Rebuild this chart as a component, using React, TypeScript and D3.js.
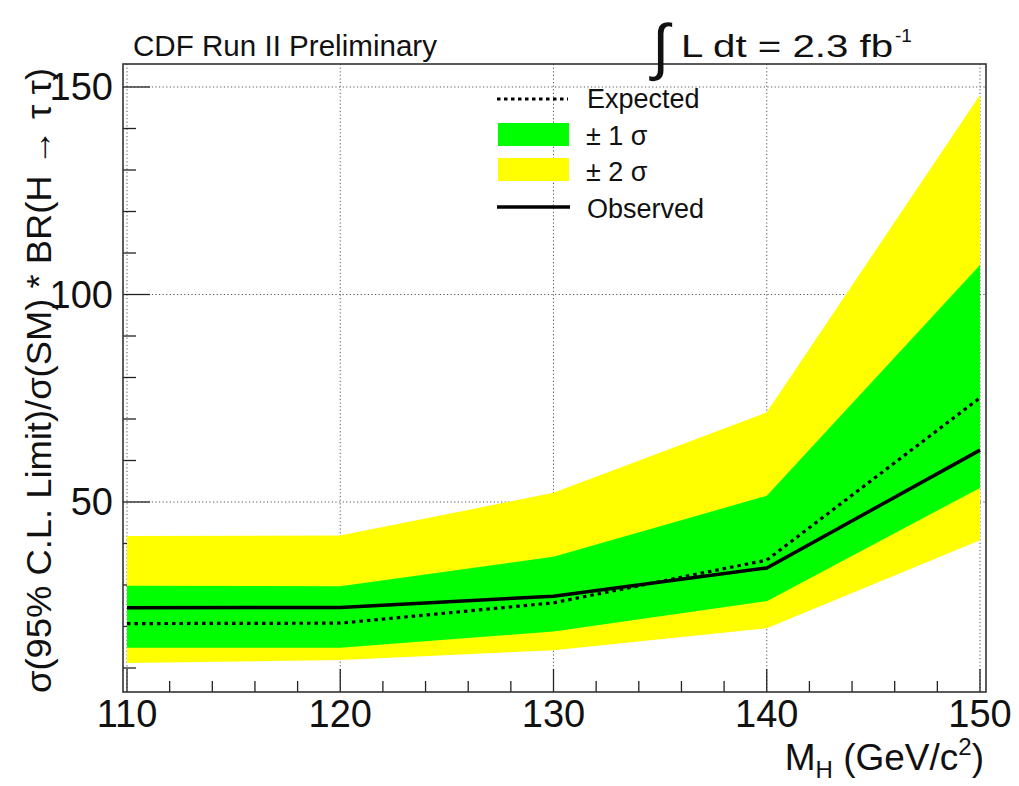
import React from 'react';
import * as d3 from 'd3';

// Higgs mass points (GeV/c^2)
const masses = [110, 120, 130, 140, 150];
// limits on sigma(95% CL)/sigma(SM) * BR(H -> tau tau)
const expected = [20.7, 20.8, 25.7, 36.0, 75.1];
const observed = [24.5, 24.6, 27.3, 34.1, 62.5];
const minus2 = [11.2, 11.9, 14.3, 19.6, 40.8];
const minus1 = [14.9, 14.9, 18.8, 26.1, 53.4];
const plus1 = [29.8, 29.7, 36.8, 51.5, 107.1];
const plus2 = [41.8, 41.9, 52.2, 71.6, 148.1];

const xTicks = [110, 120, 130, 140, 150];
const yTicks = [50, 100, 150];

const W = 1019;
const H = 786;
const frame = { left: 123, right: 986, top: 64, bottom: 692 };
const FONT = '"Liberation Sans", Arial, Helvetica, sans-serif';

const App: React.FC = () => {
  const x = d3.scaleLinear().domain([110, 150]).range([127, 980]);
  const y = d3.scaleLinear().domain([50, 150]).range([502, 87]);

  const band = (lo: number[], hi: number[]) =>
    d3
      .area<number>()
      .x((_, i) => x(masses[i]))
      .y0((_, i) => y(lo[i]))
      .y1((_, i) => y(hi[i]))(masses) as string;

  const line = (vals: number[]) =>
    d3
      .line<number>()
      .x((_, i) => x(masses[i]))
      .y((_, i) => y(vals[i]))(masses) as string;

  const xMinor = d3.range(110, 150.01, 2).filter(v => v % 10 !== 0);
  const yMinor = d3.range(10, 150.01, 10).filter(v => v % 50 !== 0);

  const gridStyle = { stroke: '#555', strokeWidth: 1, strokeDasharray: '1.2,2.4' };

  return (
    <div style={{ position: 'absolute', left: 0, top: 0 }}>
      <svg width={W} height={H} style={{ display: 'block', background: '#fff' }} fontFamily={FONT}>
        {/* grid */}
        {xTicks.map(t => (
          <line key={`gx${t}`} x1={x(t)} x2={x(t)} y1={frame.top} y2={frame.bottom} {...gridStyle} />
        ))}
        {yTicks.map(t => (
          <line key={`gy${t}`} x1={frame.left} x2={frame.right} y1={y(t)} y2={y(t)} {...gridStyle} />
        ))}

        {/* ticks */}
        {xTicks.map(t => (
          <line key={`tx${t}`} x1={x(t)} x2={x(t)} y1={frame.bottom} y2={frame.bottom - 23} stroke="#222" strokeWidth={1.3} />
        ))}
        {xMinor.map(t => (
          <line key={`mx${t}`} x1={x(t)} x2={x(t)} y1={frame.bottom} y2={frame.bottom - 11} stroke="#222" strokeWidth={1.3} />
        ))}
        {yTicks.map(t => (
          <line key={`ty${t}`} x1={frame.left} x2={frame.left + 27} y1={y(t)} y2={y(t)} stroke="#222" strokeWidth={1.3} />
        ))}
        {yMinor.map(t => (
          <line key={`my${t}`} x1={frame.left} x2={frame.left + 13} y1={y(t)} y2={y(t)} stroke="#222" strokeWidth={1.3} />
        ))}

        {/* bands */}
        <path d={band(minus2, plus2)} fill="#ffff00" />
        <path d={band(minus1, plus1)} fill="#00ff00" />

        {/* lines */}
        <path d={line(expected)} fill="none" stroke="#000" strokeWidth={3.2} strokeDasharray="3.5,4" />
        <path d={line(observed)} fill="none" stroke="#000" strokeWidth={3.5} />

        {/* frame */}
        <rect
          x={frame.left}
          y={frame.top}
          width={frame.right - frame.left}
          height={frame.bottom - frame.top}
          fill="none"
          stroke="#333"
          strokeWidth={1.6}
        />

        {/* tick labels */}
        {xTicks.map(t => (
          <text key={`lx${t}`} x={x(t)} y={727} fontSize={38} textAnchor="middle" fill="#111">
            {t}
          </text>
        ))}
        {yTicks.map(t => (
          <text key={`ly${t}`} x={113} y={y(t) + 13} fontSize={38} textAnchor="end" fill="#111">
            {t}
          </text>
        ))}

        {/* axis titles */}
        <text x={984} y={770} fontSize={37} textAnchor="end" fill="#111">
          M<tspan fontSize={24} dy={8}>H</tspan>
          <tspan dy={-8}> (GeV/c</tspan>
          <tspan fontSize={24} dy={-15}>2</tspan>
          <tspan dy={15}>)</tspan>
        </text>
        <text
          transform="translate(51,693) rotate(-90)"
          fontSize={35}
          textLength={625}
          lengthAdjust="spacingAndGlyphs"
          fill="#111"
        >
          σ(95% C.L. Limit)/σ(SM) * BR(H → τ τ)
        </text>

        {/* header */}
        <text x={133} y={56} fontSize={29.5} textLength={304} lengthAdjust="spacingAndGlyphs" fill="#111">
          CDF Run II Preliminary
        </text>
        <text x={652} y={68} fontSize={62} fill="#111">
          ∫
        </text>
        <text x={681} y={57} fontSize={32} textLength={212} lengthAdjust="spacingAndGlyphs" fill="#111">
          L dt = 2.3 fb
        </text>
        <text x={895} y={42} fontSize={19} fill="#111">-1</text>

        {/* legend */}
        <line x1={497} x2={568} y1={99} y2={99} stroke="#000" strokeWidth={3.2} strokeDasharray="3.5,3.5" />
        <text x={587} y={108} fontSize={27} fill="#111">Expected</text>
        <rect x={498} y={123} width={71} height={23} fill="#00ff00" />
        <text x={586} y={145} fontSize={27} fill="#111">± 1 σ</text>
        <rect x={498} y={158} width={71} height={23} fill="#ffff00" />
        <text x={586} y={181} fontSize={27} fill="#111">± 2 σ</text>
        <line x1={497} x2={570} y1={207} y2={207} stroke="#000" strokeWidth={3.5} />
        <text x={587} y={218} fontSize={27} fill="#111">Observed</text>
      </svg>
    </div>
  );
};

export default App;
